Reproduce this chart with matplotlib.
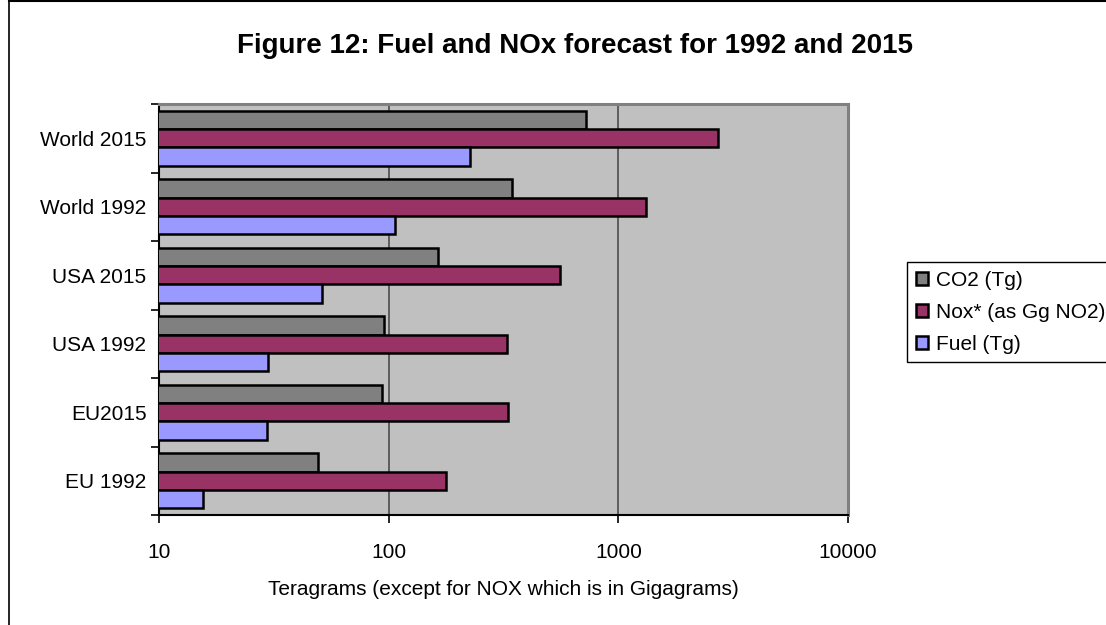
"""Figure 12: fuel and NOx forecast, horizontal bars on a log axis."""
import matplotlib
matplotlib.use('Agg')
import matplotlib.pyplot as plt
from matplotlib.patches import Patch
from matplotlib.lines import Line2D
import numpy as np

plt.rcParams['font.family'] = ['Liberation Sans', 'DejaVu Sans']

# data (bottom to top)
regions = ['EU 1992', 'EU2015', 'USA 1992', 'USA 2015', 'World 1992', 'World 2015']
co2 = [49.3, 94, 95.6, 164, 344, 724]
nox = [178, 332, 328, 556, 1321, 2704]
fuel = [15.5, 29.4, 29.8, 51.5, 107, 226]
series_names = ['CO2 (Tg)', 'Nox* (as Gg NO2)', 'Fuel (Tg)']

C_CO2 = '#808080'
C_NOX = '#993366'
C_FUEL = '#9999FF'
C_BG = '#C0C0C0'

W, H = 1106, 625
fig = plt.figure(figsize=(W / 100, H / 100), dpi=100)
ax = fig.add_axes([159 / W, 1 - 515 / H, (848 - 159) / W, (515 - 104) / H])
ax.set_xscale('log')
ax.set_facecolor(C_BG)

y = np.arange(len(regions))
h = 0.27
ax.barh(y + h, co2, height=h, color=C_CO2, edgecolor='black', linewidth=1.8, zorder=3)
ax.barh(y, nox, height=h, color=C_NOX, edgecolor='black', linewidth=1.8, zorder=3)
ax.barh(y - h, fuel, height=h, color=C_FUEL, edgecolor='black', linewidth=1.8, zorder=3)

ax.set_xlim(10, 10000)
ax.set_ylim(-0.5, len(regions) - 0.5)

# x axis
ax.set_xticks([10, 100, 1000, 10000])
ax.set_xticklabels(['10', '100', '1000', '10000'], fontsize=15)
ax.xaxis.set_minor_locator(matplotlib.ticker.NullLocator())
ax.tick_params(axis='x', direction='out', length=6, width=1.2, pad=14)
ax.grid(axis='x', which='major', color='#555555', lw=1.3, zorder=1)
ax.set_xlabel('Teragrams (except for NOX which is in Gigagrams)', fontsize=15, labelpad=13)

# y axis: labels in the middle, ticks on the category boundaries
ax.set_yticks(y)
ax.set_yticklabels(regions, fontsize=15)
ax.set_yticks(np.arange(-0.5, len(regions), 1.0), minor=True)
ax.tick_params(axis='y', which='major', length=0, pad=9)
ax.tick_params(axis='y', which='minor', direction='out', length=6, width=1.2)

for side in ['left', 'bottom']:
    ax.spines[side].set_color('black')
    ax.spines[side].set_linewidth(1.5)
for side in ['top', 'right']:
    ax.spines[side].set_color('#808080')
    ax.spines[side].set_linewidth(2.2)

fig.text(575 / W, 1 - 46 / H, 'Figure 12: Fuel and NOx forecast for 1992 and 2015',
         ha='center', va='center', fontsize=20, fontweight='bold')

# legend
handles = [Patch(facecolor=c, edgecolor='black', linewidth=1.8)
           for c in [C_CO2, C_NOX, C_FUEL]]
leg = fig.legend(handles, series_names, loc='upper left',
                 bbox_to_anchor=(907 / W, 1 - 262 / H), fontsize=15,
                 handlelength=0.6, handleheight=0.6, handletextpad=0.35,
                 labelspacing=0.62, borderpad=0.42, borderaxespad=0,
                 fancybox=False, framealpha=1)
leg.get_frame().set_edgecolor('black')
leg.get_frame().set_linewidth(1.0)

# chart area border (top and left visible)
fig.add_artist(Line2D([9 / W, 9 / W], [0, 1 - 1 / H], color='black', lw=1.2))
fig.add_artist(Line2D([9 / W, 1], [1 - 1 / H, 1 - 1 / H], color='black', lw=1.5))

fig.savefig('out.png', dpi=100, facecolor='white')
